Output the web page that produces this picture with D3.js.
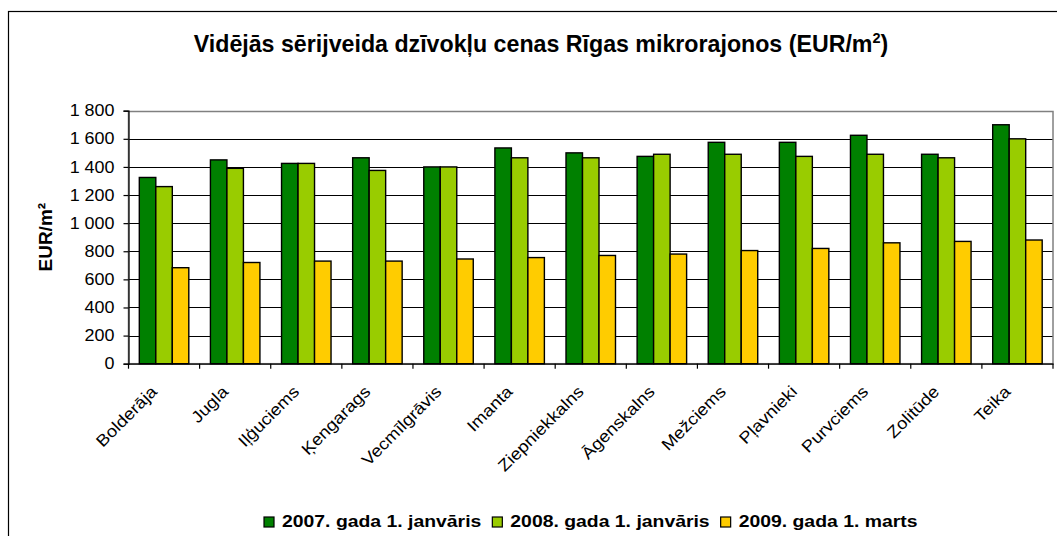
<!DOCTYPE html>
<html>
<head>
<meta charset="utf-8">
<script src="https://cdn.jsdelivr.net/npm/d3@7"></script>
<style>
  html, body { margin: 0; padding: 0; background: #fff; }
  svg { display: block; font-family: "Liberation Sans", Arial, sans-serif; }
</style>
</head>
<body>
<svg id="chart" width="1057" height="536"></svg>
<script>
const categories = ["Bolderāja","Jugla","Iļģuciems","Ķengarags","Vecmīlgrāvis","Imanta","Ziepniekkalns","Āgenskalns","Mežciems","Pļavnieki","Purvciems","Zolitūde","Teika"];
const seriesNames = ["2007. gada 1. janvāris","2008. gada 1. janvāris","2009. gada 1. marts"];
const values2007 = [1325,1450,1425,1465,1400,1535,1500,1475,1575,1575,1625,1490,1700];
const values2008 = [1260,1390,1425,1375,1400,1465,1465,1490,1490,1475,1490,1465,1600];
const values2009 = [683,720,730,730,745,755,770,780,805,820,860,870,880];
const seriesColors = ["#008000","#99CC00","#FFCC00"];
const yTickValues = [0,200,400,600,800,1000,1200,1400,1600,1800];
const yTickLabels = ["0","200","400","600","800","1 000","1 200","1 400","1 600","1 800"];
const titleMain = "Vidējās sērijveida dzīvokļu cenas Rīgas mikrorajonos (EUR/m";
const titleSup = "2";
const titleEnd = ")";
const yAxisTitle = "EUR/m²";

const seriesValues = [values2007, values2008, values2009];

const svg = d3.select("#chart");
const STRETCH = 1.12;
function stretch(sel, k) {
  sel.each(function() {
    const len = this.getComputedTextLength();
    d3.select(this).attr("textLength", len * k).attr("lengthAdjust", "spacingAndGlyphs");
  });
}

// outer chart border
svg.append("rect").attr("x", 8.5).attr("y", 11.5).attr("width", 1100).attr("height", 600)
  .attr("fill", "#fff").attr("stroke", "#000").attr("stroke-width", 1.2);

const plot = { left: 128.5, right: 1053, top: 110.7, bottom: 363.7 };

const x0 = d3.scaleBand().domain(categories).range([plot.left, plot.right]).paddingInner(0).paddingOuter(0);
const bw = x0.bandwidth();
const gapFrac = 0.152;
const x1 = d3.scaleBand().domain(d3.range(seriesNames.length)).range([bw * gapFrac, bw * (1 - gapFrac)]).padding(0);
const y = d3.scaleLinear().domain([0, 1800]).range([plot.bottom, plot.top]);

// gridlines
svg.append("g").selectAll("line").data(yTickValues.filter(v => v > 0 && v < 1800)).join("line")
  .attr("x1", plot.left).attr("x2", plot.right)
  .attr("y1", d => Math.round(y(d)) + 0.5).attr("y2", d => Math.round(y(d)) + 0.5)
  .attr("stroke", "#000").attr("stroke-width", 1.1);

// plot border (gray)
svg.append("rect").attr("x", plot.left).attr("y", Math.round(plot.top) + 0.5)
  .attr("width", plot.right - plot.left).attr("height", y(0) - Math.round(plot.top) - 0.5)
  .attr("fill", "none").attr("stroke", "#808080").attr("stroke-width", 1.5);

// bars
const groups = svg.append("g").selectAll("g").data(categories).join("g")
  .attr("transform", d => `translate(${x0(d)},0)`);
groups.selectAll("rect").data((d, i) => seriesValues.map((vals, s) => ({ s, v: vals[i] }))).join("rect")
  .attr("x", d => x1(d.s))
  .attr("width", x1.bandwidth())
  .attr("y", d => y(d.v))
  .attr("height", d => y(0) - y(d.v))
  .attr("fill", d => seriesColors[d.s])
  .attr("stroke", "#000").attr("stroke-width", 1.4);

// y axis
const yAxis = d3.axisLeft(y).tickValues(yTickValues).tickSize(5).tickPadding(9)
  .tickFormat((d, i) => yTickLabels[i]);
const gy = svg.append("g").attr("transform", `translate(${plot.left},0)`).call(yAxis);
gy.select(".domain").attr("stroke", "#000").attr("stroke-width", 1.2);
gy.selectAll(".tick line").attr("stroke", "#000").attr("stroke-width", 1.2);
gy.selectAll(".tick text").attr("font-size", 16).attr("fill", "#000")
  .attr("font-family", "Liberation Sans, Arial, sans-serif").call(stretch, STRETCH);

// x axis
const xAxis = d3.axisBottom(x0).tickSize(0).tickFormat("");
const gx = svg.append("g").attr("transform", `translate(0,${plot.bottom})`).call(xAxis);
gx.select(".domain").attr("stroke", "#000").attr("stroke-width", 1.2);
gx.selectAll(".tick").remove();
const boundaries = categories.map(c => x0(c)).concat([plot.right]);
svg.append("g").selectAll("line").data(boundaries).join("line")
  .attr("x1", d => d).attr("x2", d => d)
  .attr("y1", plot.bottom).attr("y2", plot.bottom + 5)
  .attr("stroke", "#000").attr("stroke-width", 1.2);

svg.append("g").selectAll("text").data(categories).join("text")
  .attr("transform", d => `translate(${x0(d) + bw / 2 - 6},${plot.bottom + 29}) rotate(-45)`)
  .attr("text-anchor", "end")
  .attr("font-size", 16.5).attr("fill", "#000")
  .text(d => d)
  .call(stretch, STRETCH);

// y axis title
svg.append("text")
  .attr("transform", `translate(52,${(plot.top + plot.bottom) / 2}) rotate(-90)`)
  .attr("text-anchor", "middle").attr("font-size", 19).attr("font-weight", "bold")
  .text(yAxisTitle);

// title
const t = svg.append("text").attr("x", 541).attr("y", 52).attr("text-anchor", "middle")
  .attr("font-size", 23.2).attr("font-weight", "bold");
t.append("tspan").text(titleMain);
t.append("tspan").attr("font-size", 14.5).attr("dy", -9).text(titleSup);
t.append("tspan").attr("dy", 9).text(titleEnd);

// legend
const legend = svg.append("g");
const items = legend.selectAll("g").data(seriesNames).join("g");
items.append("rect").attr("width", 10).attr("height", 10).attr("y", -10)
  .attr("fill", (d, i) => seriesColors[i]).attr("stroke", "#000").attr("stroke-width", 1.2);
items.append("text").attr("x", 18).attr("y", 0).attr("font-size", 17).attr("font-weight", "bold")
  .text(d => d).call(stretch, 1.14);
let cursor = 0;
const offsets = [];
items.each(function() {
  offsets.push(cursor);
  const tw = +d3.select(this).select("text").attr("textLength");
  cursor += 18 + tw + 11;
});
const totalW = cursor - 11;
const startX = (plot.left + plot.right) / 2 - totalW / 2;
items.attr("transform", (d, i) => `translate(${startX + offsets[i]},527)`);
</script>
</body>
</html>
